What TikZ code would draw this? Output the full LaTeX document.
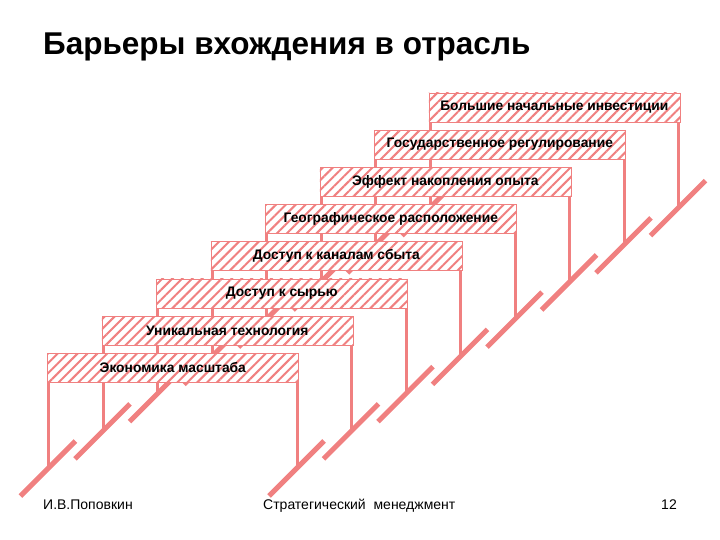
\documentclass[tikz,border=0pt]{standalone}
\usepackage{fontspec}
\setmainfont{Liberation Sans}
\usetikzlibrary{patterns.meta}
\definecolor{sal}{RGB}{240,128,128}
\begin{document}
\begin{tikzpicture}[x=1pt,y=-1pt,
  leg/.style={draw=sal,line width=3pt},
  foot/.style={draw=sal,line width=5pt},
  bar/.style={preaction={fill=white},pattern={Lines[angle=45,distance=7pt,line width=2pt]},pattern color=sal,draw=sal,line width=0.6pt,minimum width=251pt,minimum height=29pt,inner sep=0pt,anchor=north west},
  lab/.style={font=\bfseries\fontsize{13.8}{16}\selectfont},
  txt/.style={font=\fontsize{14}{16}\selectfont}]
\useasboundingbox (0,0) rectangle (720,540);
\node[anchor=west,inner sep=0pt,font=\bfseries\fontsize{31.5}{34}\selectfont] (title) at (43,47) {Барьеры вхождения в отрасль};
\foreach \i/\t in {7/Большие начальные инвестиции,6/Государственное регулирование,5/Эффект накопления опыта,4/Географическое расположение,3/Доступ к каналам сбыта,2/Доступ к сырью,1/Уникальная технология,0/Экономика масштаба}{
  \pgfmathsetmacro\xa{47+54.5*\i}
  \pgfmathsetmacro\ya{353-37.2*\i}
  \pgfmathsetmacro\xl{\xa+1.5}
  \pgfmathsetmacro\xr{\xa+250}
  \pgfmathsetmacro\yb{\ya+115}
  \coordinate (l\i) at (\xl,\yb);
  \coordinate (r\i) at (\xr,\yb);
  \draw[leg] (\xl,\ya) -- (l\i);
  \draw[leg] (\xr,\ya) -- (r\i);
  \draw[foot] ([shift={(-28,28)}]l\i) -- ([shift={(27,-27)}]l\i);
  \draw[foot] ([shift={(-28,28)}]r\i) -- ([shift={(27,-27)}]r\i);
  \node[bar] (b\i) at (\xa,\ya) {};
  \node[lab] (t\i) at (b\i.center) {\t};
}
\node[txt,anchor=base west,inner sep=0pt] (f1) at (43,509) {И.В.Поповкин};
\node[txt,anchor=base west,inner sep=0pt] (f2) at (263,509) {Стратегический\ \ менеджмент};
\node[txt,anchor=base east,inner sep=0pt] (f3) at (677,509) {12};
\end{tikzpicture}
\end{document}
